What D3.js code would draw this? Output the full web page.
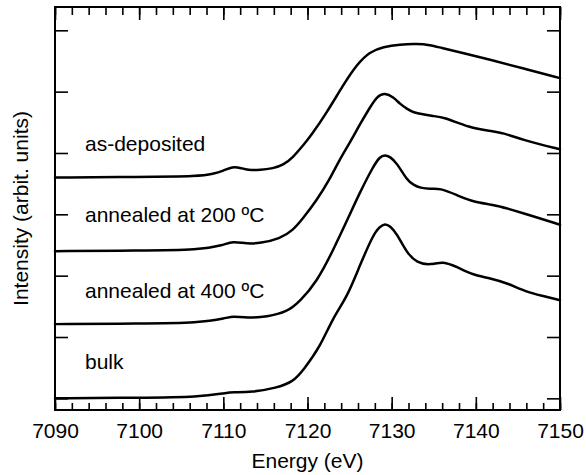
<!DOCTYPE html>
<html>
<head>
<meta charset="utf-8">
<script src="https://cdn.jsdelivr.net/npm/d3@7"></script>
<style>
  body { margin: 0; background: #fff; }
  text { font-family: "Liberation Sans", Arial, Helvetica, sans-serif; }
</style>
</head>
<body>
<svg width="586" height="475"></svg>
<script>
// XANES spectra, [energy (eV), intensity (arb. units, offset)]
const asDeposited = [
  [7090.0, 3.60], [7100.0, 3.61], [7107.2, 3.62], [7108.8, 3.66], [7110.0, 3.71],
  [7111.1, 3.78], [7112.0, 3.76], [7112.9, 3.72], [7114.4, 3.72], [7115.9, 3.75],
  [7117.1, 3.80], [7118.3, 3.93], [7119.5, 4.13], [7120.3, 4.26], [7122.3, 4.66],
  [7124.2, 5.10], [7125.9, 5.45], [7127.4, 5.65], [7129.0, 5.73], [7131.0, 5.77],
  [7133.0, 5.78], [7134.6, 5.76], [7135.7, 5.72], [7138.5, 5.63], [7141.7, 5.52],
  [7145.6, 5.38], [7150.0, 5.22]
];
const annealed200 = [
  [7090.0, 2.40], [7100.0, 2.41], [7107.2, 2.42], [7110.0, 2.50], [7111.1, 2.56],
  [7112.8, 2.52], [7114.4, 2.53], [7116.7, 2.60], [7118.3, 2.74], [7119.5, 2.94],
  [7121.1, 3.23], [7122.6, 3.56], [7123.8, 3.89], [7125.0, 4.16], [7126.2, 4.46],
  [7127.4, 4.74], [7128.3, 4.93], [7129.2, 4.98], [7130.2, 4.91], [7131.0, 4.80],
  [7131.8, 4.72], [7132.6, 4.66], [7133.7, 4.63], [7134.9, 4.60], [7136.1, 4.59],
  [7139.3, 4.41], [7141.7, 4.36], [7143.2, 4.33], [7145.6, 4.21], [7150.0, 4.06]
];
const annealed400 = [
  [7090.0, 1.21], [7100.0, 1.22], [7107.2, 1.23], [7110.4, 1.31], [7111.1, 1.34],
  [7112.8, 1.31], [7115.2, 1.33], [7117.6, 1.41], [7119.1, 1.58], [7121.1, 1.90],
  [7123.0, 2.40], [7125.0, 2.99], [7126.2, 3.35], [7127.8, 3.78], [7128.6, 3.94],
  [7129.2, 3.97], [7129.8, 3.94], [7130.6, 3.84], [7131.8, 3.56], [7132.6, 3.48],
  [7133.4, 3.43], [7134.6, 3.41], [7135.7, 3.43], [7137.8, 3.31], [7139.7, 3.20],
  [7142.5, 3.15], [7145.6, 3.02], [7150.0, 2.83]
];
const bulk = [
  [7090.0, 0.00], [7100.0, 0.01], [7107.2, 0.02], [7110.4, 0.09], [7111.1, 0.10],
  [7113.4, 0.10], [7116.3, 0.17], [7118.3, 0.27], [7119.5, 0.46], [7121.5, 0.84],
  [7123.0, 1.31], [7124.7, 1.65], [7126.2, 2.16], [7127.8, 2.67], [7128.6, 2.80],
  [7129.2, 2.85], [7129.8, 2.81], [7130.6, 2.69], [7131.8, 2.37], [7133.0, 2.21],
  [7134.6, 2.17], [7136.1, 2.24], [7137.8, 2.14], [7139.7, 2.01], [7141.7, 1.96],
  [7143.7, 1.88], [7146.1, 1.73], [7148.0, 1.67], [7150.0, 1.60]
];

const seriesNames = ['as-deposited', 'annealed at 200 ºC', 'annealed at 400 ºC', 'bulk'];
const seriesData = [asDeposited, annealed200, annealed400, bulk];
const labelLevels = [4.03, 2.87, 1.64, 0.48];   // label baselines in intensity units

const xMajorTicks = [7090, 7100, 7110, 7120, 7130, 7140, 7150];
const xMinorTicks = d3.range(7090, 7151, 2);
const yTicks = [0, 1, 2, 3, 4, 5, 6];

const svg = d3.select('svg'),
      margin = { top: 7, right: 26, bottom: 65, left: 55 },
      width = +svg.attr('width') - margin.left - margin.right,
      height = +svg.attr('height') - margin.top - margin.bottom,
      g = svg.append('g')
                .attr('transform', 'translate(' + margin.left + ',' + margin.top + ')');

const x = d3.scaleLinear()
            .domain([7090, 7150])
            .range([0, width]);
const y = d3.scaleLinear()
            .domain([-0.19, 6.38])
            .range([height, 0]);

const fontSize = 21;

// minor ticks, bottom and top
g.append('g')
    .attr('class', 'tick-minor')
    .attr('transform', 'translate(0,' + height + ')')
    .call(d3.axisBottom(x).tickValues(xMinorTicks).tickSize(-7).tickFormat(''));
g.append('g')
    .attr('class', 'tick-minor')
    .call(d3.axisTop(x).tickValues(xMinorTicks).tickSize(-8).tickFormat(''));

// major ticks, bottom with labels
g.append('g')
    .attr('class', 'x-axis')
    .attr('transform', 'translate(0,' + height + ')')
    .call(d3.axisBottom(x).tickValues(xMajorTicks).tickSize(-13).tickPadding(13).tickFormat(d3.format('d')));
g.append('g')
    .attr('class', 'x-axis-top')
    .call(d3.axisTop(x).tickValues(xMajorTicks).tickSize(-13).tickFormat(''));

g.append('g')
    .attr('class', 'y-axis')
    .call(d3.axisLeft(y).tickValues(yTicks).tickSize(-13).tickFormat(''));
g.append('g')
    .attr('class', 'y-axis-right')
    .attr('transform', 'translate(' + width + ',0)')
    .call(d3.axisRight(y).tickValues(yTicks).tickSize(-13).tickFormat(''));

g.selectAll('.domain').remove();
g.selectAll('.tick line')
    .attr('stroke', '#000')
    .attr('stroke-width', 1.6);
g.selectAll('.x-axis text')
    .attr('fill', '#000')
    .style('font-size', fontSize + 'px')
    .style('font-family', '"Liberation Sans", Arial, sans-serif');

// frame
g.append('rect')
    .attr('x', 0)
    .attr('y', 0)
    .attr('width', width)
    .attr('height', height)
    .attr('fill', 'none')
    .attr('stroke', '#000')
    .attr('stroke-width', 2);

const line = d3.line()
               .x((d) => { return x(d[0]); })
               .y((d) => { return y(d[1]); })
               .curve(d3.curveBasis);

g.selectAll('.spectrum')
    .data(seriesData)
  .enter().append('path')
    .attr('class', 'spectrum')
    .attr('fill', 'none')
    .attr('stroke', '#000')
    .attr('stroke-width', 2.5)
    .attr('stroke-linejoin', 'round')
    .attr('stroke-linecap', 'round')
    .attr('d', line);

g.selectAll('.series-label')
    .data(seriesNames)
  .enter().append('text')
    .attr('class', 'series-label')
    .attr('x', 30)
    .attr('y', (d, i) => { return y(labelLevels[i]); })
    .attr('fill', '#000')
    .style('font-size', fontSize + 'px')
    .text((d) => { return d; });

// axis titles
svg.append('text')
    .attr('x', margin.left + width / 2)
    .attr('y', 468)
    .attr('text-anchor', 'middle')
    .attr('fill', '#000')
    .style('font-size', fontSize + 'px')
    .text('Energy (eV)');

svg.append('text')
    .attr('transform', 'translate(28,' + (margin.top + height / 2) + ') rotate(-90)')
    .attr('text-anchor', 'middle')
    .attr('fill', '#000')
    .style('font-size', fontSize + 'px')
    .text('Intensity (arbit. units)');
</script>
</body>
</html>
